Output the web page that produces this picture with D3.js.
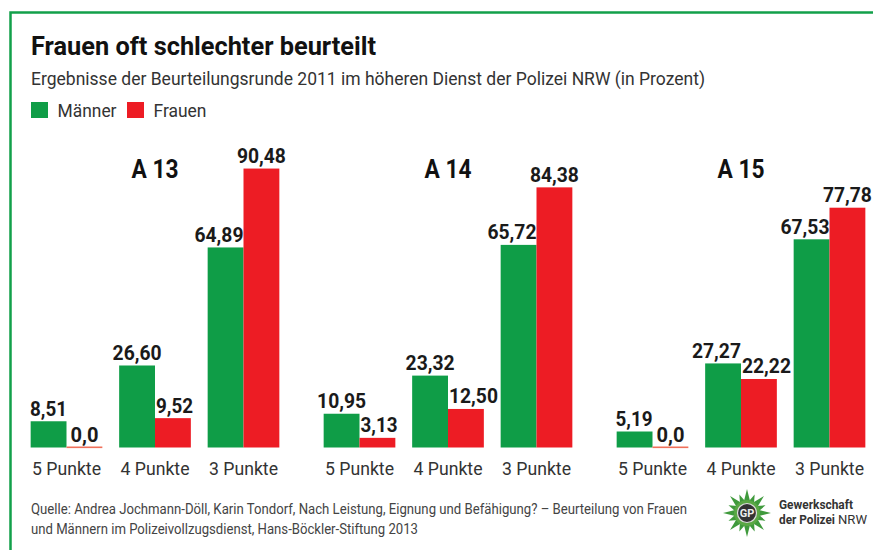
<!DOCTYPE html>
<html>
<head>
<meta charset="utf-8">
<script src="https://cdn.jsdelivr.net/npm/d3@7"></script>
<style>
  html, body { margin: 0; padding: 0; background: #fff; }
  svg { display: block; }
  text { font-family: "Liberation Sans Narrow", Roboto, "Liberation Sans", sans-serif; }
</style>
</head>
<body>
<div id="container"></div>
<script>
let w = 873;
let h = 550;

// data
let groups = ["A 13", "A 14", "A 15"];
let points = ["5 Punkte", "4 Punkte", "3 Punkte"];
let seriesNames = ["Männer", "Frauen"];
let seriesColors = ["#0f9d47", "#ed1c24"];
let maennerValues = [8.51, 26.60, 64.89, 10.95, 23.32, 65.72, 5.19, 27.27, 67.53];
let frauenValues = [0.0, 9.52, 90.48, 3.13, 12.50, 84.38, 0.0, 22.22, 77.78];
let maennerLabels = ["8,51", "26,60", "64,89", "10,95", "23,32", "65,72", "5,19", "27,27", "67,53"];
let frauenLabels = ["0,0", "9,52", "90,48", "3,13", "12,50", "84,38", "0,0", "22,22", "77,78"];

let viz = d3.select("#container")
  .append("svg")
    .attr("width", w)
    .attr("height", h)
;

// green frame, open at the right and bottom
viz.append("path")
  .attr("d", "M10.5,550 V12.5 H873")
  .attr("fill", "none")
  .attr("stroke", "#12a04a")
  .attr("stroke-width", 2.5)
;

// fit text to the width in the reference, the fonts here are not the original
function addText(str, x, y, size, width, weight, color, anchor){
  return viz.append("text")
    .text(str)
    .attr("x", x)
    .attr("y", y)
    .attr("font-size", size)
    .attr("font-weight", weight)
    .attr("fill", color)
    .attr("text-anchor", anchor || "start")
    .attr("textLength", width)
    .attr("lengthAdjust", "spacingAndGlyphs")
  ;
}

addText("Frauen oft schlechter beurteilt", 31, 55, 25.5, 345, "bold", "#111");
addText("Ergebnisse der Beurteilungsrunde 2011 im höheren Dienst der Polizei NRW (in Prozent)", 31, 85, 18, 674, "normal", "#333");

// legend
let legendX = [31, 127];
let legendTextX = [57.5, 153.5];
let legendTextW = [59, 53];
seriesNames.forEach(function(name, i){
  viz.append("rect")
    .attr("x", legendX[i])
    .attr("y", 102)
    .attr("width", 17)
    .attr("height", 16)
    .attr("fill", seriesColors[i])
  ;
  addText(name, legendTextX[i], 117, 18, legendTextW[i], "normal", "#333");
});

// scales
let yScale = d3.scaleLinear().domain([0, 100]).range([447.5, 139.2]);
let groupScale = d3.scaleBand().domain(groups).range([8.5, 887.5]);
let pointScale = d3.scaleBand().domain(points).range([13.75, 279.25]).paddingInner(0.19).paddingOuter(0.095);
let seriesScale = d3.scaleBand().domain(seriesNames).range([0, pointScale.bandwidth()]);

// flat table for the bars
let rows = [];
groups.forEach(function(g, gi){
  points.forEach(function(p, pi){
    let idx = gi * points.length + pi;
    let m = maennerValues[idx];
    let f = frauenValues[idx];
    rows.push({group: g, point: p, series: seriesNames[0], value: m, other: f, label: maennerLabels[idx], color: seriesColors[0]});
    rows.push({group: g, point: p, series: seriesNames[1], value: f, other: m, label: frauenLabels[idx], color: seriesColors[1]});
  });
});

function barX(d){
  return groupScale(d.group) + pointScale(d.point) + seriesScale(d.series);
}

function labelWidth(d){
  return d.label.length == 3 ? 28 : (d.label.length == 4 ? 37 : 49);
}

// a label wider than its bar goes against the shared edge when the neighbour
// bar blocks it, or when the two labels would run into each other
function pushedToEdge(d){
  if(labelWidth(d) < seriesScale.bandwidth()){
    return false;
  }
  let gap = Math.abs(yScale(d.value) - yScale(d.other));
  return d.value < d.other || gap < 20;
}
function labelAnchor(d){
  if(!pushedToEdge(d)){
    return "middle";
  }
  return d.series == seriesNames[0] ? "end" : "start";
}
function labelX(d){
  let bw = seriesScale.bandwidth();
  if(!pushedToEdge(d)){
    return barX(d) + bw / 2;
  }
  return d.series == seriesNames[0] ? barX(d) + bw : barX(d) + 1;
}

let vizGroup = viz.append("g").attr("class", "vizGroup");

vizGroup.selectAll(".bar").data(rows).enter()
  .append("rect")
    .attr("class", "bar")
    .attr("x", barX)
    .attr("y", function(d){ return yScale(d.value); })
    .attr("width", seriesScale.bandwidth())
    .attr("height", function(d){ return yScale(0) - yScale(d.value); })
    .attr("fill", function(d){ return d.color; })
;

// the zero bars still show as a thin line
vizGroup.selectAll(".zero").data(rows.filter(function(d){ return d.value == 0; })).enter()
  .append("rect")
    .attr("class", "zero")
    .attr("x", barX)
    .attr("y", yScale(0) - 1)
    .attr("width", seriesScale.bandwidth())
    .attr("height", 1.6)
    .attr("fill", "#f0705a")
;

vizGroup.selectAll(".value").data(rows).enter()
  .append("text")
    .attr("class", "value")
    .text(function(d){ return d.label; })
    .attr("x", labelX)
    .attr("y", function(d){ return yScale(d.value) - 5.5; })
    .attr("text-anchor", labelAnchor)
    .attr("font-size", 20)
    .attr("font-weight", "bold")
    .attr("fill", "#1a1a1a")
    .attr("textLength", labelWidth)
    .attr("lengthAdjust", "spacingAndGlyphs")
;

// group titles
groups.forEach(function(g){
  addText(g, groupScale(g) + pointScale(points[1]) + pointScale.bandwidth() / 2, 177.5, 25, 47, "bold", "#111", "middle");
});

// category labels
groups.forEach(function(g){
  points.forEach(function(p){
    addText(p, groupScale(g) + pointScale(p) + pointScale.bandwidth() / 2, 475, 18, 69, "normal", "#333", "middle");
  });
});

// source
addText("Quelle: Andrea Jochmann-Döll, Karin Tondorf, Nach Leistung, Eignung und Befähigung? – Beurteilung von Frauen", 31, 513.5, 14, 656, "normal", "#444");
addText("und Männern im Polizeivollzugsdienst, Hans-Böckler-Stiftung 2013", 31, 533.5, 14, 387, "normal", "#444");

// GdP logo
let logo = viz.append("g").attr("transform", "translate(747, 513)");
d3.range(16).forEach(function(i){
  let tip = i % 2 == 0 ? -24 : -20;
  logo.append("path")
    .attr("d", "M-4,-8 L0," + tip + " L4,-8 Z")
    .attr("fill", "#3f9a3c")
    .attr("transform", "rotate(" + (i * 22.5) + ")")
  ;
});
logo.append("circle").attr("r", 13).attr("fill", "#5aa845");
logo.append("circle").attr("r", 9.5).attr("fill", "#333").attr("stroke", "#ddd").attr("stroke-width", 1.2);
logo.append("text")
  .text("GP")
  .attr("text-anchor", "middle")
  .attr("y", 4)
  .attr("font-size", 11)
  .attr("font-weight", "bold")
  .attr("fill", "#eee")
;

addText("Gewerkschaft", 779, 508.5, 12.5, 74, "bold", "#333");
addText("der Polizei", 779, 523.5, 12.5, 56, "bold", "#333");
addText("NRW", 838, 523.5, 12.5, 29, "normal", "#333");
</script>
</body>
</html>
